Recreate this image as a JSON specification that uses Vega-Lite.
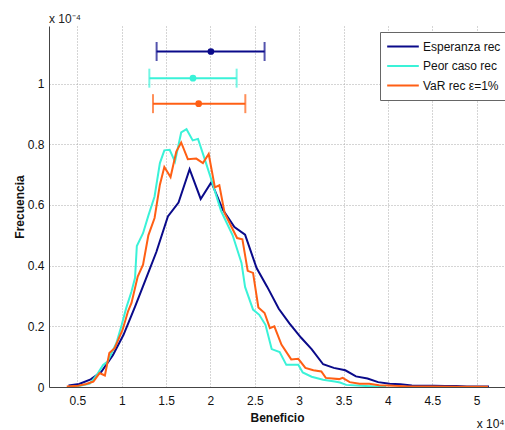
{
  "$schema": "https://vega.github.io/schema/vega-lite/v6.json",
  "autosize": {"type": "none"},
  "padding": {"left": 49, "top": 26, "right": 0, "bottom": 43},
  "width": 456,
  "height": 361,
  "background": "white",
  "title": {"text": "x 10⁻⁴", "anchor": "start", "frame": "group", "orient": "top", "offset": 4, "dy": 13, "baseline": "alphabetic", "font": "Liberation Sans", "fontSize": 12, "fontWeight": "normal", "color": "#222"},
  "config": {
    "view": {"stroke": null},
    "font": "Liberation Sans",
    "axis": {
      "domainColor": "#444",
      "domainWidth": 1,
      "labelFont": "Liberation Sans",
      "labelFontSize": 12,
      "labelColor": "#111",
      "titleFont": "Liberation Sans",
      "titleFontSize": 12,
      "titleFontWeight": "bold",
      "titleColor": "#111",
      "gridColor": "#aaaaaa",
      "gridDash": [1, 2],
      "gridWidth": 1,
      "ticks": false
    }
  },
  "datasets": {
    "curves": [
      {"serie": "Esperanza rec", "x": 0.40, "y": 0.005},
      {"serie": "Esperanza rec", "x": 0.52, "y": 0.010},
      {"serie": "Esperanza rec", "x": 0.65, "y": 0.025},
      {"serie": "Esperanza rec", "x": 0.77, "y": 0.050},
      {"serie": "Esperanza rec", "x": 0.90, "y": 0.105},
      {"serie": "Esperanza rec", "x": 1.02, "y": 0.172},
      {"serie": "Esperanza rec", "x": 1.15, "y": 0.265},
      {"serie": "Esperanza rec", "x": 1.27, "y": 0.355},
      {"serie": "Esperanza rec", "x": 1.39, "y": 0.445},
      {"serie": "Esperanza rec", "x": 1.52, "y": 0.562},
      {"serie": "Esperanza rec", "x": 1.64, "y": 0.608},
      {"serie": "Esperanza rec", "x": 1.765, "y": 0.718},
      {"serie": "Esperanza rec", "x": 1.89, "y": 0.620},
      {"serie": "Esperanza rec", "x": 2.01, "y": 0.675},
      {"serie": "Esperanza rec", "x": 2.14, "y": 0.584},
      {"serie": "Esperanza rec", "x": 2.27, "y": 0.527},
      {"serie": "Esperanza rec", "x": 2.39, "y": 0.502},
      {"serie": "Esperanza rec", "x": 2.52, "y": 0.392},
      {"serie": "Esperanza rec", "x": 2.64, "y": 0.330},
      {"serie": "Esperanza rec", "x": 2.77, "y": 0.258},
      {"serie": "Esperanza rec", "x": 2.89, "y": 0.210},
      {"serie": "Esperanza rec", "x": 3.02, "y": 0.163},
      {"serie": "Esperanza rec", "x": 3.14, "y": 0.125},
      {"serie": "Esperanza rec", "x": 3.27, "y": 0.075},
      {"serie": "Esperanza rec", "x": 3.39, "y": 0.063},
      {"serie": "Esperanza rec", "x": 3.52, "y": 0.055},
      {"serie": "Esperanza rec", "x": 3.64, "y": 0.035},
      {"serie": "Esperanza rec", "x": 3.77, "y": 0.028},
      {"serie": "Esperanza rec", "x": 3.89, "y": 0.016},
      {"serie": "Esperanza rec", "x": 4.02, "y": 0.011},
      {"serie": "Esperanza rec", "x": 4.14, "y": 0.009},
      {"serie": "Esperanza rec", "x": 4.27, "y": 0.005},
      {"serie": "Esperanza rec", "x": 4.39, "y": 0.004},
      {"serie": "Esperanza rec", "x": 4.52, "y": 0.004},
      {"serie": "Esperanza rec", "x": 4.64, "y": 0.003},
      {"serie": "Esperanza rec", "x": 4.77, "y": 0.003},
      {"serie": "Esperanza rec", "x": 4.89, "y": 0.002},
      {"serie": "Esperanza rec", "x": 5.02, "y": 0.002},
      {"serie": "Esperanza rec", "x": 5.14, "y": 0.002},
      {"serie": "Peor caso rec", "x": 0.40, "y": 0.000},
      {"serie": "Peor caso rec", "x": 0.53, "y": 0.004},
      {"serie": "Peor caso rec", "x": 0.64, "y": 0.011},
      {"serie": "Peor caso rec", "x": 0.72, "y": 0.040},
      {"serie": "Peor caso rec", "x": 0.79, "y": 0.073},
      {"serie": "Peor caso rec", "x": 0.84, "y": 0.084},
      {"serie": "Peor caso rec", "x": 0.94, "y": 0.145},
      {"serie": "Peor caso rec", "x": 1.00, "y": 0.205},
      {"serie": "Peor caso rec", "x": 1.05, "y": 0.260},
      {"serie": "Peor caso rec", "x": 1.11, "y": 0.315},
      {"serie": "Peor caso rec", "x": 1.15, "y": 0.360},
      {"serie": "Peor caso rec", "x": 1.17, "y": 0.465},
      {"serie": "Peor caso rec", "x": 1.24, "y": 0.507},
      {"serie": "Peor caso rec", "x": 1.30, "y": 0.565},
      {"serie": "Peor caso rec", "x": 1.37, "y": 0.628},
      {"serie": "Peor caso rec", "x": 1.43, "y": 0.738},
      {"serie": "Peor caso rec", "x": 1.48, "y": 0.780},
      {"serie": "Peor caso rec", "x": 1.54, "y": 0.782},
      {"serie": "Peor caso rec", "x": 1.60, "y": 0.743},
      {"serie": "Peor caso rec", "x": 1.67, "y": 0.839},
      {"serie": "Peor caso rec", "x": 1.73, "y": 0.850},
      {"serie": "Peor caso rec", "x": 1.80, "y": 0.813},
      {"serie": "Peor caso rec", "x": 1.86, "y": 0.818},
      {"serie": "Peor caso rec", "x": 1.95, "y": 0.738},
      {"serie": "Peor caso rec", "x": 2.01, "y": 0.683},
      {"serie": "Peor caso rec", "x": 2.12, "y": 0.580},
      {"serie": "Peor caso rec", "x": 2.25, "y": 0.500},
      {"serie": "Peor caso rec", "x": 2.35, "y": 0.409},
      {"serie": "Peor caso rec", "x": 2.39, "y": 0.330},
      {"serie": "Peor caso rec", "x": 2.48, "y": 0.255},
      {"serie": "Peor caso rec", "x": 2.55, "y": 0.238},
      {"serie": "Peor caso rec", "x": 2.62, "y": 0.205},
      {"serie": "Peor caso rec", "x": 2.69, "y": 0.125},
      {"serie": "Peor caso rec", "x": 2.78, "y": 0.115},
      {"serie": "Peor caso rec", "x": 2.855, "y": 0.073},
      {"serie": "Peor caso rec", "x": 2.99, "y": 0.073},
      {"serie": "Peor caso rec", "x": 3.04, "y": 0.048},
      {"serie": "Peor caso rec", "x": 3.14, "y": 0.034},
      {"serie": "Peor caso rec", "x": 3.27, "y": 0.024},
      {"serie": "Peor caso rec", "x": 3.40, "y": 0.018},
      {"serie": "Peor caso rec", "x": 3.46, "y": 0.015},
      {"serie": "Peor caso rec", "x": 3.53, "y": 0.007},
      {"serie": "Peor caso rec", "x": 3.70, "y": 0.004},
      {"serie": "Peor caso rec", "x": 3.85, "y": 0.002},
      {"serie": "Peor caso rec", "x": 3.98, "y": 0.001},
      {"serie": "VaR rec ε=1%", "x": 0.38, "y": 0.002},
      {"serie": "VaR rec ε=1%", "x": 0.51, "y": 0.004},
      {"serie": "VaR rec ε=1%", "x": 0.60, "y": 0.010},
      {"serie": "VaR rec ε=1%", "x": 0.68, "y": 0.018},
      {"serie": "VaR rec ε=1%", "x": 0.75, "y": 0.046},
      {"serie": "VaR rec ε=1%", "x": 0.81, "y": 0.038},
      {"serie": "VaR rec ε=1%", "x": 0.86, "y": 0.112},
      {"serie": "VaR rec ε=1%", "x": 0.92, "y": 0.128},
      {"serie": "VaR rec ε=1%", "x": 1.01, "y": 0.189},
      {"serie": "VaR rec ε=1%", "x": 1.07, "y": 0.249},
      {"serie": "VaR rec ε=1%", "x": 1.11, "y": 0.277},
      {"serie": "VaR rec ε=1%", "x": 1.18, "y": 0.364},
      {"serie": "VaR rec ε=1%", "x": 1.24, "y": 0.403},
      {"serie": "VaR rec ε=1%", "x": 1.30, "y": 0.500},
      {"serie": "VaR rec ε=1%", "x": 1.37, "y": 0.557},
      {"serie": "VaR rec ε=1%", "x": 1.43, "y": 0.667},
      {"serie": "VaR rec ε=1%", "x": 1.48, "y": 0.725},
      {"serie": "VaR rec ε=1%", "x": 1.55, "y": 0.692},
      {"serie": "VaR rec ε=1%", "x": 1.615, "y": 0.776},
      {"serie": "VaR rec ε=1%", "x": 1.67, "y": 0.806},
      {"serie": "VaR rec ε=1%", "x": 1.745, "y": 0.751},
      {"serie": "VaR rec ε=1%", "x": 1.84, "y": 0.753},
      {"serie": "VaR rec ε=1%", "x": 1.915, "y": 0.738},
      {"serie": "VaR rec ε=1%", "x": 1.98, "y": 0.768},
      {"serie": "VaR rec ε=1%", "x": 2.05, "y": 0.658},
      {"serie": "VaR rec ε=1%", "x": 2.10, "y": 0.665},
      {"serie": "VaR rec ε=1%", "x": 2.16, "y": 0.573},
      {"serie": "VaR rec ε=1%", "x": 2.30, "y": 0.491},
      {"serie": "VaR rec ε=1%", "x": 2.36, "y": 0.487},
      {"serie": "VaR rec ε=1%", "x": 2.42, "y": 0.383},
      {"serie": "VaR rec ε=1%", "x": 2.48, "y": 0.376},
      {"serie": "VaR rec ε=1%", "x": 2.54, "y": 0.262},
      {"serie": "VaR rec ε=1%", "x": 2.61, "y": 0.244},
      {"serie": "VaR rec ε=1%", "x": 2.67, "y": 0.194},
      {"serie": "VaR rec ε=1%", "x": 2.72, "y": 0.200},
      {"serie": "VaR rec ε=1%", "x": 2.80, "y": 0.140},
      {"serie": "VaR rec ε=1%", "x": 2.91, "y": 0.091},
      {"serie": "VaR rec ε=1%", "x": 2.99, "y": 0.093},
      {"serie": "VaR rec ε=1%", "x": 3.07, "y": 0.063},
      {"serie": "VaR rec ε=1%", "x": 3.16, "y": 0.055},
      {"serie": "VaR rec ε=1%", "x": 3.25, "y": 0.051},
      {"serie": "VaR rec ε=1%", "x": 3.30, "y": 0.030},
      {"serie": "VaR rec ε=1%", "x": 3.45, "y": 0.026},
      {"serie": "VaR rec ε=1%", "x": 3.49, "y": 0.030},
      {"serie": "VaR rec ε=1%", "x": 3.57, "y": 0.016},
      {"serie": "VaR rec ε=1%", "x": 3.68, "y": 0.011},
      {"serie": "VaR rec ε=1%", "x": 3.79, "y": 0.011},
      {"serie": "VaR rec ε=1%", "x": 3.90, "y": 0.006},
      {"serie": "VaR rec ε=1%", "x": 4.00, "y": 0.005},
      {"serie": "VaR rec ε=1%", "x": 4.24, "y": 0.002},
      {"serie": "VaR rec ε=1%", "x": 4.50, "y": 0.002},
      {"serie": "VaR rec ε=1%", "x": 4.80, "y": 0.001},
      {"serie": "VaR rec ε=1%", "x": 5.13, "y": 0.001}
    ],
    "errbars": [
      {"serie": "Esperanza rec", "lo": 1.393, "mid": 2.005, "hi": 2.61, "y": 1.106},
      {"serie": "Peor caso rec", "lo": 1.311, "mid": 1.803, "hi": 2.295, "y": 1.018},
      {"serie": "VaR rec ε=1%", "lo": 1.352, "mid": 1.867, "hi": 2.393, "y": 0.934}
    ]
  },
  "resolve": {"axis": {"x": "independent"}},
  "layer": [
    {
      "data": {"name": "curves"},
      "mark": {"type": "line", "strokeWidth": 2, "clip": true},
      "encoding": {
        "x": {"field": "x", "type": "quantitative", "scale": {"domain": [0.18, 5.32], "nice": false, "zero": false},
              "axis": {"title": "Beneficio", "orient": "bottom", "values": [0.5, 1, 1.5, 2, 2.5, 3, 3.5, 4, 4.5, 5], "format": "~g", "labelPadding": 8, "titlePadding": 6, "grid": true}},
        "y": {"field": "y", "type": "quantitative", "scale": {"domain": [0, 1.19], "nice": false, "zero": false},
              "axis": {"title": "Frecuencia", "values": [0, 0.2, 0.4, 0.6, 0.8, 1], "format": "~g", "labelPadding": 5, "titlePadding": 1, "grid": true}},
        "color": {"field": "serie", "type": "nominal",
                  "scale": {"domain": ["Esperanza rec", "Peor caso rec", "VaR rec ε=1%"], "range": ["#0a0a8a", "#3af2d8", "#ff5f14"]},
                  "legend": {"title": null, "orient": "none", "legendX": 331, "legendY": 6, "symbolType": "stroke", "symbolSize": 1000, "symbolStrokeWidth": 2, "clipHeight": 17, "rowPadding": 2.5, "labelOffset": 3, "labelFont": "Liberation Sans", "labelFontSize": 12, "labelColor": "#111", "padding": 6, "fillColor": "white", "strokeColor": "#666"}}
      }
    },
    {
      "data": {"name": "errbars"},
      "mark": {"type": "rule", "strokeWidth": 2},
      "encoding": {
        "x": {"field": "lo", "type": "quantitative", "axis": null},
        "x2": {"field": "hi"},
        "y": {"field": "y", "type": "quantitative"},
        "color": {"field": "serie", "type": "nominal", "legend": null}
      }
    },
    {
      "data": {"name": "errbars"},
      "mark": {"type": "tick", "orient": "vertical", "size": 19, "thickness": 2},
      "encoding": {
        "x": {"field": "lo", "type": "quantitative", "axis": null},
        "y": {"field": "y", "type": "quantitative"},
        "color": {"field": "serie", "type": "nominal", "legend": null}
      }
    },
    {
      "data": {"name": "errbars"},
      "mark": {"type": "tick", "orient": "vertical", "size": 19, "thickness": 2},
      "encoding": {
        "x": {"field": "hi", "type": "quantitative",
              "axis": {"title": "x 10⁴", "orient": "bottom", "labels": false, "domain": false, "grid": false, "ticks": false, "titleX": 455, "titleY": 40, "titleAlign": "right", "titleAnchor": null, "titleBaseline": "alphabetic", "titleFontWeight": "normal"}},
        "y": {"field": "y", "type": "quantitative"},
        "color": {"field": "serie", "type": "nominal", "legend": null}
      }
    },
    {
      "data": {"name": "errbars"},
      "mark": {"type": "point", "filled": true, "size": 45, "opacity": 1},
      "encoding": {
        "x": {"field": "mid", "type": "quantitative", "axis": null},
        "y": {"field": "y", "type": "quantitative"},
        "color": {"field": "serie", "type": "nominal", "legend": null}
      }
    }
  ]
}
